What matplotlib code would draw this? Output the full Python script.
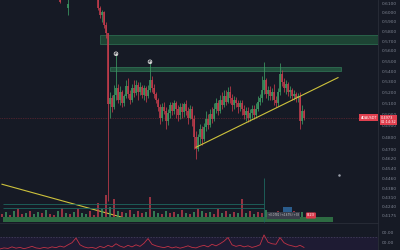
import matplotlib
matplotlib.use("Agg")
import matplotlib.pyplot as plt
from matplotlib.patches import Rectangle
from matplotlib.ticker import FixedLocator, FixedFormatter, NullLocator

BG = '#161a25'
UP = '#3d9a63'
DOWN = '#c43c4c'

# candles: bar index, open, high, low, close
cdl_bar = [30, 34] + list(range(49, 153))
cdl_open = [0.6154, 0.6046,
            0.6154, 0.6046, 0.5971, 0.6003, 0.5866, 0.5784, 0.5090, 0.5153, 0.5063, 0.5181,
            0.5245, 0.5135, 0.5208, 0.5099, 0.5172, 0.5264, 0.5190, 0.5135, 0.5245, 0.5199,
            0.5273, 0.5208, 0.5254, 0.5181, 0.5245, 0.5172, 0.5227, 0.5320, 0.5245, 0.5190,
            0.5135, 0.5063, 0.4973, 0.5063, 0.5027, 0.4938, 0.5009, 0.5081, 0.5027, 0.5099,
            0.5045, 0.4991, 0.5063, 0.5018, 0.5090, 0.5027, 0.4973, 0.5045, 0.4956, 0.4800,
            0.4699, 0.4800, 0.4869, 0.4783, 0.4886, 0.4956, 0.4903, 0.5000, 0.4956, 0.5045,
            0.5099, 0.5027, 0.5135, 0.5081, 0.5172, 0.5117, 0.5208, 0.5153, 0.5081, 0.5135,
            0.5099, 0.5063, 0.5108, 0.5045, 0.4991, 0.5027, 0.4973, 0.5009, 0.5045, 0.4991,
            0.5045, 0.5117, 0.5153, 0.5227, 0.5320, 0.5190, 0.5227, 0.5172, 0.5208, 0.5135,
            0.5099, 0.5208, 0.5378, 0.5301, 0.5245, 0.5282, 0.5208, 0.5227, 0.5172, 0.5190,
            0.5153, 0.5172, 0.4938, 0.5027]
cdl_high = [0.6176, 0.6165,
            0.6176, 0.6067, 0.6024, 0.6013, 0.5897, 0.5784, 0.5208, 0.5181, 0.5273, 0.5572,
            0.5282, 0.5264, 0.5227, 0.5190, 0.5320, 0.5340, 0.5227, 0.5282, 0.5320, 0.5320,
            0.5301, 0.5301, 0.5273, 0.5273, 0.5264, 0.5273, 0.5493, 0.5359, 0.5282, 0.5208,
            0.5153, 0.5090, 0.5099, 0.5117, 0.5063, 0.5045, 0.5117, 0.5117, 0.5135, 0.5126,
            0.5081, 0.5099, 0.5099, 0.5117, 0.5135, 0.5063, 0.5081, 0.5072, 0.4991, 0.4852,
            0.4826, 0.4912, 0.4895, 0.4921, 0.5027, 0.5000, 0.5045, 0.5063, 0.5099, 0.5153,
            0.5135, 0.5181, 0.5208, 0.5227, 0.5227, 0.5254, 0.5264, 0.5190, 0.5172, 0.5163,
            0.5135, 0.5135, 0.5135, 0.5081, 0.5063, 0.5063, 0.5045, 0.5081, 0.5081, 0.5099,
            0.5172, 0.5190, 0.5359, 0.5493, 0.5340, 0.5264, 0.5264, 0.5245, 0.5282, 0.5172,
            0.5245, 0.5483, 0.5416, 0.5340, 0.5320, 0.5301, 0.5264, 0.5245, 0.5227, 0.5208,
            0.5199, 0.5208, 0.5081, 0.5045]
cdl_low = [0.6100, 0.5971,
           0.6024, 0.5939, 0.5897, 0.5835, 0.5733, 0.4283, 0.4973, 0.5018, 0.5045, 0.5135,
           0.5099, 0.5081, 0.5063, 0.5072, 0.5153, 0.5153, 0.5090, 0.5117, 0.5163, 0.5181,
           0.5135, 0.5181, 0.5153, 0.5135, 0.5117, 0.5153, 0.5208, 0.5208, 0.5153, 0.5099,
           0.5027, 0.4912, 0.4938, 0.5000, 0.4869, 0.4903, 0.4973, 0.4991, 0.5000, 0.4973,
           0.4938, 0.4956, 0.4973, 0.4982, 0.4991, 0.4912, 0.4956, 0.4895, 0.4699, 0.4617,
           0.4683, 0.4741, 0.4733, 0.4766, 0.4852, 0.4869, 0.4886, 0.4921, 0.4938, 0.5009,
           0.4991, 0.5009, 0.5045, 0.5063, 0.5081, 0.5099, 0.5099, 0.5027, 0.5045, 0.5063,
           0.5009, 0.5027, 0.4991, 0.4956, 0.4938, 0.4930, 0.4938, 0.4973, 0.4956, 0.4973,
           0.5027, 0.5081, 0.5117, 0.5190, 0.5153, 0.5135, 0.5135, 0.5135, 0.5081, 0.5063,
           0.5072, 0.5181, 0.5264, 0.5208, 0.5190, 0.5172, 0.5153, 0.5135, 0.5135, 0.5117,
           0.5117, 0.4869, 0.4912, 0.4947]
cdl_close = [0.6111, 0.6089,
             0.6046, 0.5971, 0.6003, 0.5866, 0.5784, 0.5090, 0.5153, 0.5063, 0.5181, 0.5245,
             0.5135, 0.5208, 0.5099, 0.5172, 0.5264, 0.5190, 0.5135, 0.5245, 0.5199, 0.5273,
             0.5208, 0.5254, 0.5181, 0.5245, 0.5172, 0.5227, 0.5320, 0.5245, 0.5190, 0.5135,
             0.5063, 0.4973, 0.5063, 0.5027, 0.4938, 0.5009, 0.5081, 0.5027, 0.5099, 0.5045,
             0.4991, 0.5063, 0.5018, 0.5090, 0.5027, 0.4973, 0.5045, 0.4956, 0.4800, 0.4699,
             0.4800, 0.4869, 0.4783, 0.4886, 0.4956, 0.4903, 0.5000, 0.4956, 0.5045, 0.5099,
             0.5027, 0.5135, 0.5081, 0.5172, 0.5117, 0.5208, 0.5153, 0.5081, 0.5135, 0.5099,
             0.5063, 0.5108, 0.5045, 0.4991, 0.5027, 0.4973, 0.5009, 0.5045, 0.4991, 0.5045,
             0.5117, 0.5153, 0.5227, 0.5320, 0.5190, 0.5227, 0.5172, 0.5208, 0.5135, 0.5099,
             0.5208, 0.5378, 0.5301, 0.5245, 0.5282, 0.5208, 0.5227, 0.5172, 0.5190, 0.5153,
             0.5172, 0.4938, 0.5027, 0.4973]

price_ticks = [0.6100, 0.6000, 0.5900, 0.5800, 0.5700, 0.5600, 0.5500, 0.5400, 0.5300,
               0.5200, 0.5100, 0.5000, 0.4900, 0.4800, 0.4700, 0.4620, 0.4540, 0.4460,
               0.4380, 0.4310, 0.4240, 0.4175]
last_price = 0.4973
symbol = 'ADAUSDT'
countdown = '01:14:32'

zone_top = (0.5671, 0.5763)
zone_mid = (0.5405, 0.5444)
trend_up_bar = [98, 169]
trend_up_px = [0.4716, 0.5340]
trend_dn_bar = [1, 66.5]
trend_dn_px = [0.4415, 0.4140]
mark_bar = [58, 75]
mark_px = [0.5572, 0.5493]

vol_bar = list(range(1, 152, 2))
vol = [3, 5, 2, 6, 8, 3, 4, 6, 3, 5,
       4, 7, 3, 2, 6, 9, 4, 3, 5, 8,
       4, 3, 6, 2, 14, 8, 22, 10, 18, 6,
       5, 4, 7, 3, 6, 4, 5, 20, 6, 4,
       3, 6, 4, 5, 3, 7, 4, 3, 5, 8,
       6, 4, 5, 3, 8, 4, 6, 3, 5, 4,
       18, 4, 6, 3, 5, 4, 7, 3, 5, 6,
       4, 5, 3, 6, 4, 5]
vol_dir = "rgrgrrgrgg" "rgrrgrgrgr" "ggrrrgrgrg" "rgrgrrgrgg" "rgrrgrgrgr" "grgrrgrgrg" "rgrgrrgrgr" "grgrrg"

osc_bar = list(range(0, 153, 2))
osc = [4, 8, 6, 12, 7, 10, 5, 9, 14, 8, 6,
       10, 7, 12, 9, 15, 11, 20, 28, 46, 20,
       12, 8, 10, 6, 14, 9, 18, 12, 24, 15,
       10, 18, 12, 20, 14, 26, 44, 22, 16, 12,
       9, 14, 8, 12, 7, 11, 16, 10, 8, 14,
       18, 12, 22, 16, 24, 34, 48, 20, 14, 18,
       12, 16, 10, 14, 20, 58, 30, 24, 22, 48,
       28, 20, 16, 12, 18, 10]
osc_ticks = [27, 69]

fig = plt.figure(figsize=(4, 2.5), dpi=100, facecolor=BG)

# ---- price pane
ax = fig.add_axes([0, 27 / 250, 378 / 400, 223 / 250])
ax.set_facecolor(BG)
ax.set_yscale('log')
ax.set_xlim(0, 189)
ax.set_ylim(0.4120, 0.6133)

# volume overlay first: twinx() would move the price ticks back to the left
ax_v = ax.twinx()
ax_v.set_ylim(0, 223)
ax_v.set_yticks([])
for s in ax_v.spines.values():
    s.set_visible(False)

cols = [UP if c >= o else DOWN for o, c in zip(cdl_open, cdl_close)]
ax.vlines(cdl_bar, cdl_low, cdl_high, colors=cols, lw=0.55, zorder=3)
ax.vlines(cdl_bar, cdl_open, cdl_close, colors=cols, lw=1.15, zorder=3)

ax.add_patch(Rectangle((50, zone_top[0]), 139, zone_top[1] - zone_top[0],
                       fc='#1d4434', ec='#2c6a4e', lw=0.6, zorder=2))
ax.add_patch(Rectangle((55, zone_mid[0]), 115.5, zone_mid[1] - zone_mid[0],
                       fc='#224f3d', ec='#2f6e52', lw=0.6, zorder=2))

ax.plot(trend_up_bar, trend_up_px, color='#cdc23c', lw=0.8, zorder=4)
ax.plot(trend_dn_bar, trend_dn_px, color='#cdc23c', lw=0.8, zorder=4)

ax.axhline(last_price, color='#7e2b37', lw=0.5, ls=(0, (1, 1.5)), zorder=1)

ax.scatter(mark_bar, mark_px, s=7, facecolors='none', edgecolors='#d8d8d8', lw=0.6, zorder=5)
ax.scatter(mark_bar, mark_px, s=0.6, color='#d8d8d8', zorder=5)
ax.plot([169.5], [0.4487], 'o', ms=0.8, color='#9aa0aa')

ax.yaxis.tick_right()
ax.yaxis.set_label_position('right')
ax.yaxis.set_major_locator(FixedLocator(price_ticks))
ax.yaxis.set_major_formatter(FixedFormatter([f'{v:.4f}' for v in price_ticks]))
ax.yaxis.set_minor_locator(NullLocator())
ax.tick_params(axis='y', which='both', left=False, labelleft=False, right=True,
               labelright=True, length=0, pad=2.5, labelsize=3.2, labelcolor='#7d8391')
ax.set_xticks([])
for s in ['top', 'left']:
    ax.spines[s].set_visible(False)
for s in ['right', 'bottom']:
    ax.spines[s].set_color('#2a2e39')
    ax.spines[s].set_linewidth(0.6)

ytr = ax.get_yaxis_transform()
ax.annotate(f'{last_price:.4f}\n{countdown}', xy=(1.0, last_price), xycoords=ytr,
            xytext=(2, -1.9), textcoords='offset points', fontsize=2.5, color='white',
            va='center', ha='left', linespacing=1.05, annotation_clip=False, zorder=10,
            bbox=dict(boxstyle='square,pad=0.25', fc='#e0404f', ec='none'))
ax.text(0.997, last_price, symbol, transform=ytr, fontsize=2.4, color='white',
        ha='right', va='center', zorder=10,
        bbox=dict(boxstyle='square,pad=0.35', fc='#e0404f', ec='none'))

# volume marks
ax_v.add_patch(Rectangle((1.5, 1), 165, 5, fc='#2d6b42', ec='none', zorder=1))
vcols = [UP if d == 'g' else DOWN for d in vol_dir]
ax_v.bar(vol_bar, vol, bottom=6, width=0.7, color=vcols, alpha=0.75, zorder=2)
ax_v.hlines([15, 19], 1.5, 132, colors='#1e675f', lw=0.6, zorder=3)
ax_v.vlines(132, 1, 45, colors='#1e675f', lw=0.6, zorder=3)
ax_v.add_patch(Rectangle((141.5, 10), 4.5, 6, fc='#2a5c8c', ec='none', zorder=3))
ax_v.text(134, 7.5, '+0.0781 (+4.67%) +38', fontsize=1.9, color='#c8c8c8', va='center',
          bbox=dict(boxstyle='square,pad=0.4', fc='#3a3e4a', ec='none'), zorder=4)
ax_v.text(153.5, 7.5, '8.23', fontsize=2.6, color='white', va='center',
          bbox=dict(boxstyle='round,pad=0.3', fc='#d8384a', ec='none'), zorder=4)

# ---- oscillator pane
ax_o = fig.add_axes([0, 0, 378 / 400, 26 / 250])
ax_o.set_facecolor(BG)
ax_o.set_xlim(0, 189)
ax_o.set_ylim(0, 100)
ax_o.axhspan(0, 50, color='#1e1b33', lw=0)
ax_o.axhline(50, color='#4a4663', lw=0.5, ls=(0, (2, 2)))
ax_o.plot(osc_bar, osc, color='#c23246', lw=0.6)
ax_o.yaxis.tick_right()
ax_o.set_yticks(osc_ticks)
ax_o.set_yticklabels(['00.00'] * len(osc_ticks))
ax_o.tick_params(axis='y', length=0, pad=2.5, labelsize=3.2, labelcolor='#7d8391')
ax_o.set_xticks([])
for s in ['top', 'left', 'bottom']:
    ax_o.spines[s].set_visible(False)
ax_o.spines['right'].set_color('#2a2e39')
ax_o.spines['right'].set_linewidth(0.6)

fig.savefig('out.png', dpi=100, facecolor=BG)
